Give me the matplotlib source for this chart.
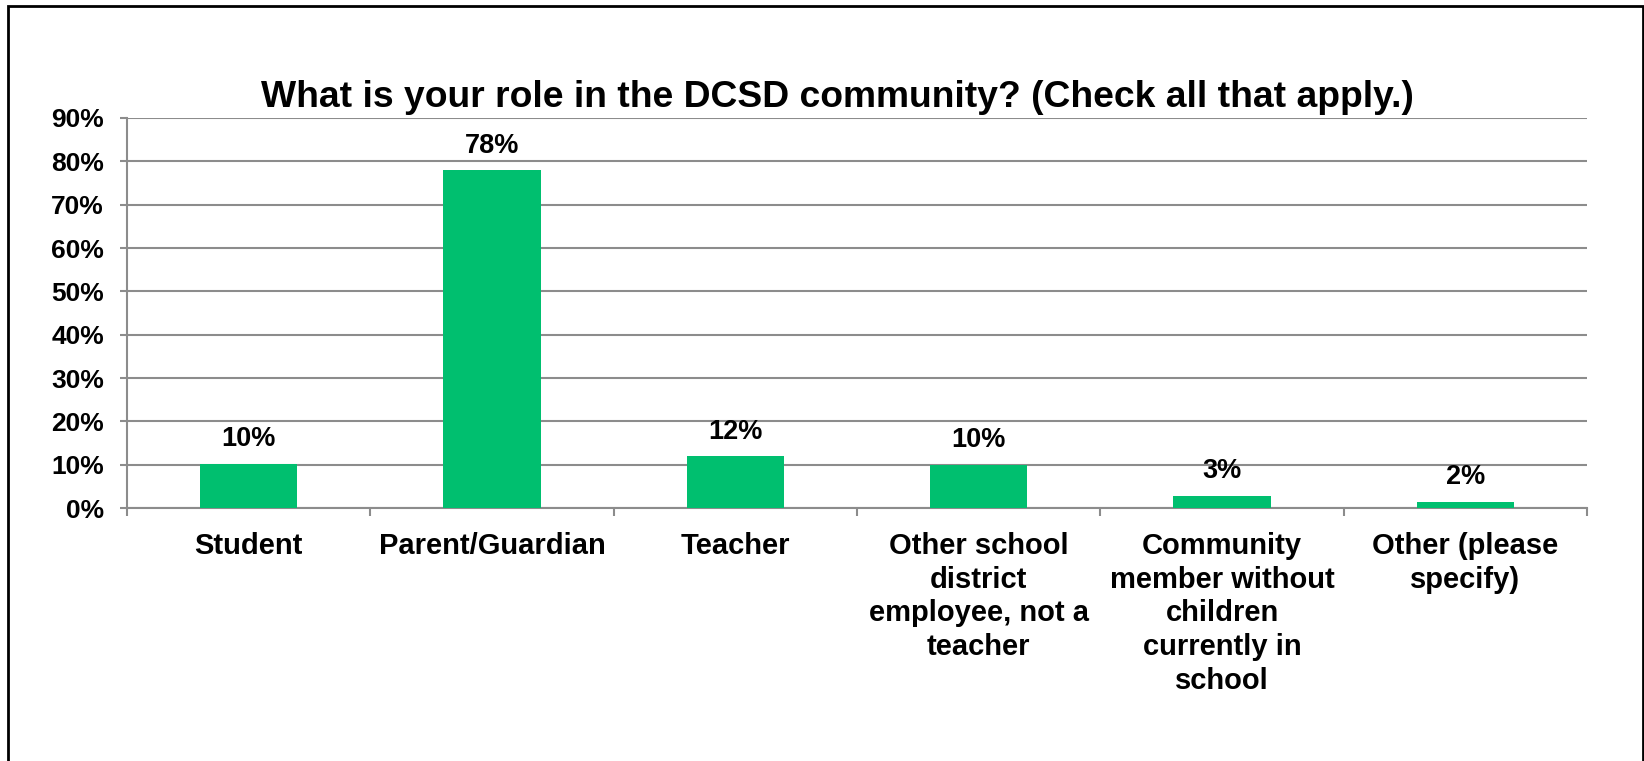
import matplotlib
matplotlib.use('Agg')
import matplotlib.pyplot as plt
from matplotlib.patches import Rectangle
from matplotlib.ticker import FuncFormatter, FixedLocator

roles = ['Student', 'Parent/Guardian', 'Teacher',
         'Other school\ndistrict\nemployee, not a\nteacher',
         'Community\nmember without\nchildren\ncurrently in\nschool',
         'Other (please\nspecify)']
shares = [0.102, 0.779, 0.119, 0.100, 0.028, 0.015]
y_ticks = [0.0, 0.1, 0.2, 0.3, 0.4, 0.5, 0.6, 0.7, 0.8, 0.9]
title = 'What is your role in the DCSD community? (Check all that apply.)'

BAR = '#00BF6F'
GRID = '#8C8C8C'

plt.rcParams['font.family'] = ['Liberation Sans', 'DejaVu Sans']

W, H = 1644, 761
fig = plt.figure(figsize=(W / 100, H / 100), dpi=100)
ax = fig.add_axes([127 / W, 1 - 508 / H, (1587 - 127) / W, (508 - 118) / H])

x = list(range(len(roles)))
bars = ax.bar(x, shares, width=0.40, color=BAR, zorder=3)
for rect, v in zip(bars, shares):
    ax.annotate(f'{round(v * 100):.0f}%',
                (rect.get_x() + rect.get_width() / 2, rect.get_height()),
                xytext=(0, 12.6), textcoords='offset points',
                ha='center', va='baseline', fontsize=19.5, fontweight='bold')

ax.set_xlim(-0.5, len(roles) - 0.5)
ax.set_ylim(0, 0.9)
ax.set_yticks(y_ticks)
ax.yaxis.set_major_formatter(FuncFormatter(lambda v, _: f'{v * 100:.0f}%'))
ax.yaxis.grid(True, color=GRID, linewidth=1.5, zorder=0)

# category names sit between the boundary ticks
ax.set_xticks(x)
ax.set_xticklabels(roles, fontsize=21, fontweight='bold', linespacing=1.27, va='top')
ax.tick_params(axis='x', length=0, pad=17)
ax.xaxis.set_minor_locator(FixedLocator([i - 0.5 for i in range(len(roles) + 1)]))
ax.tick_params(axis='x', which='minor', length=6, width=1.5, color=GRID, direction='out')
ax.tick_params(axis='y', length=5, width=1.5, color=GRID, labelsize=19, pad=11.5)
for lab in ax.get_yticklabels():
    lab.set_fontweight('bold')

for side in ('top', 'right'):
    ax.spines[side].set_visible(False)
for side in ('left', 'bottom'):
    ax.spines[side].set_color(GRID)
    ax.spines[side].set_linewidth(1.5)

fig.text(837 / W, 1 - 107 / H, title, ha='center', va='baseline',
         fontsize=26.8, fontweight='bold')

# outer chart frame, open at the bottom edge
fig.patches.append(Rectangle((7.5 / W, -0.05), (1642.5 - 7.5) / W, 1.05 - 5.5 / H,
                             transform=fig.transFigure, fill=False,
                             edgecolor='black', linewidth=2, clip_on=False))

fig.savefig('out.png', dpi=100)
